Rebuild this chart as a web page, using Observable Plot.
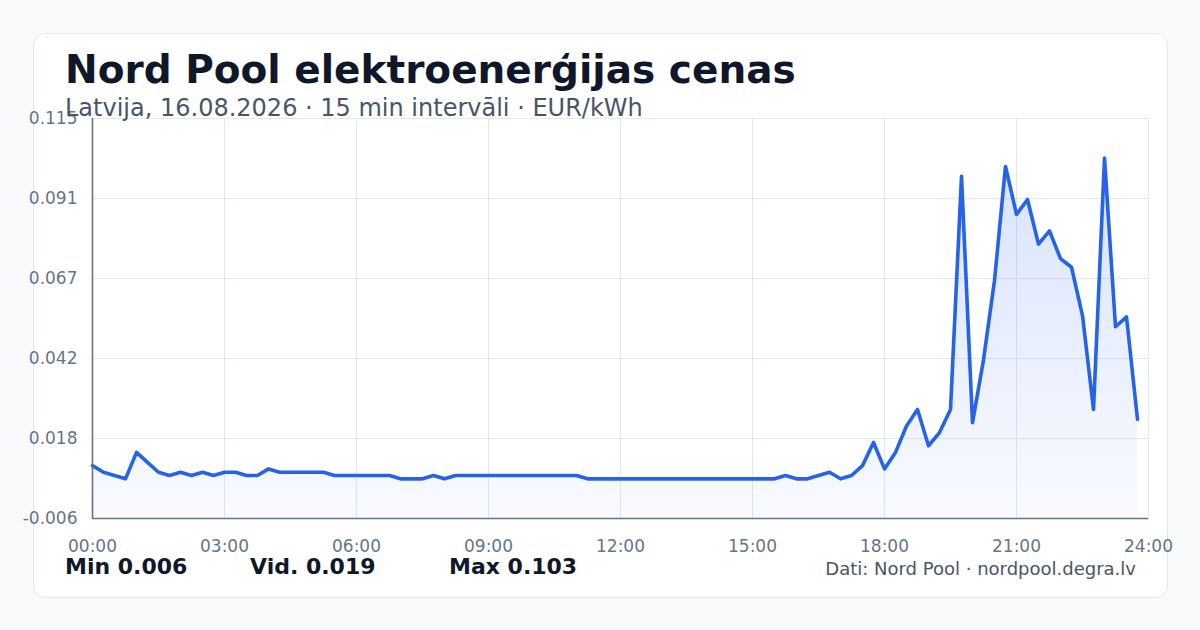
<!DOCTYPE html>
<html>
<head>
<meta charset="utf-8">
<script src="https://cdn.jsdelivr.net/npm/d3@7"></script>
<script src="https://cdn.jsdelivr.net/npm/@observablehq/plot@0.6"></script>
<style>
  html, body { margin: 0; padding: 0; }
  body { width: 1200px; height: 630px; background: #f8fafc; position: relative; overflow: hidden; font-family: "DejaVu Sans", sans-serif; }
  .card { position: absolute; left: 33px; top: 33px; width: 1135px; height: 565px; box-sizing: border-box; background: #ffffff; border: 1px solid #e2e8f0; border-radius: 12px; }
  .abs { position: absolute; line-height: 1; white-space: nowrap; }
  #title { left: 65px; top: 50px; font-size: 39px; font-weight: bold; color: #0f172a; }
  #subtitle { left: 65px; top: 96px; font-size: 24px; color: #475569; }
  #chart { position: absolute; left: 0; top: 100px; }
  .stat { top: 556px; font-size: 22px; font-weight: bold; color: #0f172a; }
  #source { right: 64px; top: 560px; font-size: 18px; color: #475569; }
</style>
</head>
<body>
<div class="card"></div>
<div id="chart"></div>
<div id="title" class="abs"></div>
<div id="subtitle" class="abs"></div>
<div id="stats"></div>
<div id="source" class="abs"></div>
<script>
const titleText = "Nord Pool elektroenerģijas cenas";
const subtitleText = "Latvija, 16.08.2026 · 15 min intervāli · EUR/kWh";
const sourceText = "Dati: Nord Pool · nordpool.degra.lv";
const statLabels = ["Min 0.006", "Vid. 0.019", "Max 0.103"];
const statLefts = [65, 250, 449];

// Price per 15-minute interval (EUR/kWh), 96 intervals starting 00:00
const prices = [
  0.010, 0.008, 0.007, 0.006, 0.014, 0.011, 0.008, 0.007,
  0.008, 0.007, 0.008, 0.007, 0.008, 0.008, 0.007, 0.007,
  0.009, 0.008, 0.008, 0.008, 0.008, 0.008, 0.007, 0.007,
  0.007, 0.007, 0.007, 0.007, 0.006, 0.006, 0.006, 0.007,
  0.006, 0.007, 0.007, 0.007, 0.007, 0.007, 0.007, 0.007,
  0.007, 0.007, 0.007, 0.007, 0.007, 0.006, 0.006, 0.006,
  0.006, 0.006, 0.006, 0.006, 0.006, 0.006, 0.006, 0.006,
  0.006, 0.006, 0.006, 0.006, 0.006, 0.006, 0.006, 0.007,
  0.006, 0.006, 0.007, 0.008, 0.006, 0.007, 0.010, 0.017,
  0.009, 0.014, 0.022, 0.027, 0.016, 0.020, 0.027, 0.0975,
  0.023, 0.042, 0.066, 0.1005, 0.086, 0.0905, 0.077, 0.081,
  0.0726, 0.070, 0.0554, 0.027, 0.103, 0.052, 0.055, 0.024
];

const xTicks = [0, 3, 6, 9, 12, 15, 18, 21, 24];
const xTickLabels = ["00:00", "03:00", "06:00", "09:00", "12:00", "15:00", "18:00", "21:00", "24:00"];
const yDomain = [-0.006, 0.115];
const yTicks = [-0.006, 0.0182, 0.0424, 0.0666, 0.0908, 0.115];

const data = prices.map((v, i) => ({ hour: i / 4, price: v }));

document.getElementById("title").textContent = titleText;
document.getElementById("subtitle").textContent = subtitleText;
document.getElementById("source").textContent = sourceText;
const statsDiv = document.getElementById("stats");
statLabels.forEach((s, i) => {
  const d = document.createElement("div");
  d.className = "abs stat";
  d.style.left = statLefts[i] + "px";
  d.textContent = s;
  statsDiv.appendChild(d);
});

const grid = "#e2e8f0";
const axisColor = "#64748b";
const fmt3 = d3.format(".3f");

const chart = Plot.plot({
  width: 1200,
  height: 470,
  marginLeft: 92,
  marginRight: 52,
  marginTop: 18,
  marginBottom: 52,
  style: { fontFamily: "DejaVu Sans", fontSize: "17px", color: "#64748b", background: "transparent", overflow: "visible" },
  x: { domain: [0, 24] },
  y: { domain: yDomain },
  marks: [
    Plot.gridX(xTicks, { stroke: grid, strokeOpacity: 1, strokeWidth: 1 }),
    Plot.gridY(yTicks, { stroke: grid, strokeOpacity: 1, strokeWidth: 1 }),
    Plot.areaY(data, { x: "hour", y1: yDomain[0], y2: "price", fill: "url(#areaGrad)" }),
    Plot.lineY(data, { x: "hour", y: "price", stroke: "#2563eb", strokeWidth: 3.6, strokeLinejoin: "round", strokeLinecap: "round" }),
    Plot.ruleX([0], { stroke: axisColor, strokeWidth: 1.6 }),
    Plot.ruleY([yDomain[0]], { stroke: axisColor, strokeWidth: 1.6 }),
    Plot.axisX({ ticks: xTicks, tickFormat: (d) => xTickLabels[xTicks.indexOf(d)], tickSize: 0, tickPadding: 21, label: null, fill: "#64748b" }),
    Plot.axisY({ ticks: yTicks, tickFormat: (d) => fmt3(d).replace("\u2212", "-"), tickSize: 0, tickPadding: 15, label: null, fill: "#64748b" })
  ]
});

d3.select(chart).insert("defs", ":first-child").html(
  '<linearGradient id="areaGrad" x1="0" y1="0" x2="0" y2="1">' +
  '<stop offset="0" stop-color="#2563eb" stop-opacity="0.18"/>' +
  '<stop offset="1" stop-color="#2563eb" stop-opacity="0.03"/>' +
  '</linearGradient>'
);

document.getElementById("chart").appendChild(chart);
</script>
</body>
</html>
